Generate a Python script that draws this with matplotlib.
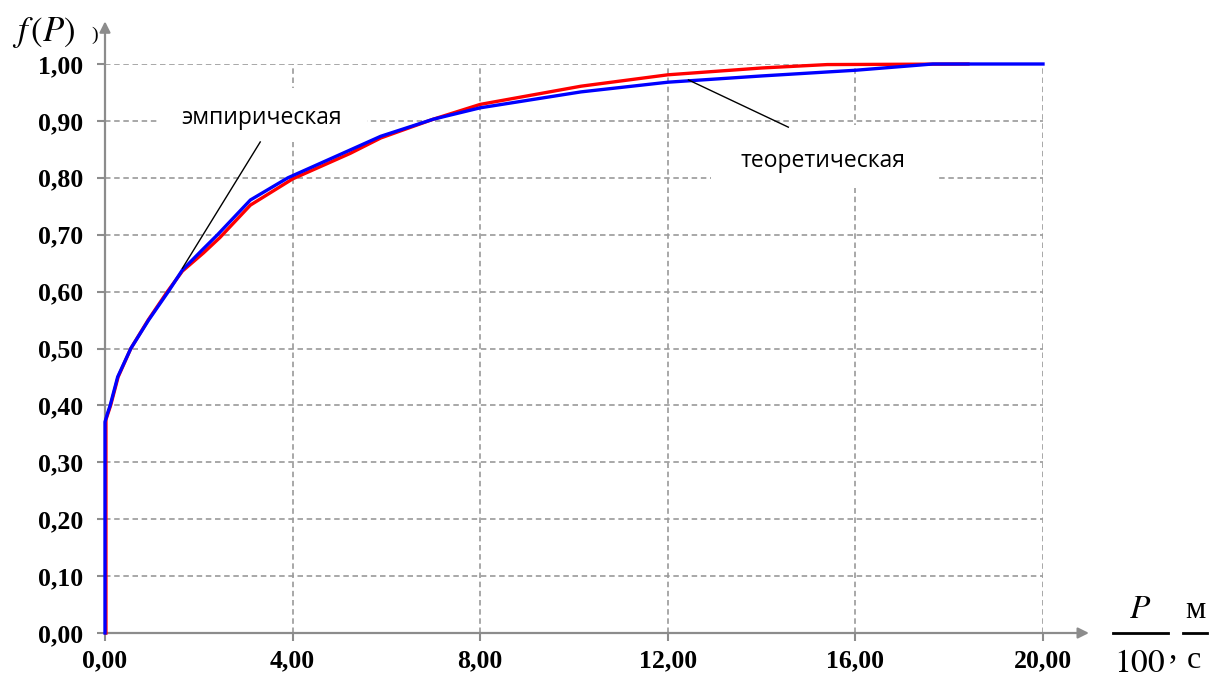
import matplotlib.pyplot as plt
from matplotlib.patches import Rectangle

plt.rcParams['mathtext.fontset'] = 'stix'

# theoretical / empirical distribution function of P/100
x_blue = [0, 0, 0.05, 0.11, 0.27, 0.55, 0.93, 1.35, 1.65, 2.07, 2.4, 3.1, 3.9,
          5.23, 5.88, 7.0, 8.0, 10.15, 12.0, 14.0, 16.0, 17.65, 20.0]
f_blue = [0, 0.371, 0.385, 0.40, 0.45, 0.50, 0.55, 0.60, 0.638, 0.673, 0.70,
          0.761, 0.80, 0.849, 0.873, 0.903, 0.923, 0.951, 0.968, 0.979, 0.989,
          1.0, 1.0]
x_red = [0.02, 0.02, 0.06, 0.12, 0.28, 0.55, 0.92, 1.33, 1.65, 2.1, 2.45, 3.1,
         4.0, 5.23, 5.88, 7.0, 8.0, 10.15, 12.0, 14.0, 15.4, 18.4]
f_red = [0, 0.375, 0.385, 0.40, 0.45, 0.50, 0.55, 0.60, 0.636, 0.668, 0.695,
         0.752, 0.798, 0.843, 0.870, 0.903, 0.929, 0.961, 0.981, 0.993, 0.999,
         1.0]

x_ticks = [0, 4, 8, 12, 16, 20]
y_ticks = [i / 10 for i in range(11)]

W, H = 1212, 698
fig = plt.figure(figsize=(W / 100, H / 100), dpi=100)
ax = fig.add_axes([105 / W, 65 / H, 938 / W, 569 / H])


def px(x, y):
    return x / W, 1 - y / H


gray = '#8c8c8c'
ax.set_xlim(0, 20)
ax.set_ylim(0, 1)
ax.set_xticks(x_ticks)
ax.set_yticks(y_ticks)
ax.set_xticklabels([('%.2f' % v).replace('.', ',') for v in x_ticks])
ax.set_yticklabels([('%.2f' % v).replace('.', ',') for v in y_ticks])
for t in ax.get_xticklabels() + ax.get_yticklabels():
    t.set_fontfamily('Liberation Serif')
    t.set_fontweight('bold')
    t.set_fontsize(18.5)
ax.tick_params(axis='both', direction='out', length=6, width=1.5, color=gray)
ax.tick_params(axis='y', pad=10)
ax.tick_params(axis='x', pad=6)

for s in ax.spines.values():
    s.set_visible(False)
ax.set_axisbelow(True)
ax.grid(True, color='#9a9a9a', lw=1.2, ls=(0, (3.3, 2.2)))

# axis lines with arrow heads
arrow = dict(arrowstyle='-|>', color=gray, lw=1.6, mutation_scale=16,
             shrinkA=0, shrinkB=0)
ax.annotate('', xy=(0, 1.075), xytext=(0, 0), arrowprops=arrow,
            annotation_clip=False)
ax.annotate('', xy=(20.98, 0), xytext=(0, 0), arrowprops=arrow,
            annotation_clip=False)

ax.plot(x_red, f_red, color='#ff0000', lw=2.4, zorder=3, clip_on=False)
ax.plot(x_blue, f_blue, color='#0000ff', lw=2.4, zorder=4, clip_on=False)

# label boxes
ax.add_patch(Rectangle((1.11, 0.863), 4.47, 0.095, facecolor='white',
                       edgecolor='none', zorder=1))
ax.add_patch(Rectangle((12.93, 0.782), 4.81, 0.111, facecolor='white',
                       edgecolor='none', zorder=1))
ax.text(3.33, 0.905, 'эмпирическая', ha='center', va='center', fontsize=16.5,
        family='Open Sans', zorder=5)
ax.text(15.3, 0.83, 'теоретическая', ha='center', va='center', fontsize=16.5,
        family='Open Sans', zorder=5)
ax.plot([3.31, 1.65], [0.863, 0.641], color='black', lw=1, zorder=5)
ax.plot([14.57, 12.44], [0.889, 0.972], color='black', lw=1, zorder=5)

# axis titles
fig.text(*px(12, 33), r'$f\,(P)$', fontsize=25, ha='left', va='center')
fig.text(*px(95, 35), ')', fontsize=14, ha='center', va='center',
         family='Liberation Serif')

fig.text(*px(1140, 609), r'$P$', fontsize=24, ha='center', va='center')
fig.text(*px(1140, 662), r'$100$', fontsize=24, ha='center', va='center')
fig.text(*px(1173, 650), ',', fontsize=24, ha='center', va='center',
         family='Liberation Serif')
fig.text(*px(1195, 610), 'м', fontsize=23, ha='center', va='center',
         family='Liberation Serif')
fig.text(*px(1194, 660), 'с', fontsize=23, ha='center', va='center',
         family='Liberation Serif')
fig.add_artist(plt.Line2D([1113 / W, 1168 / W], [1 - 633 / H] * 2,
                          color='black', lw=2))
fig.add_artist(plt.Line2D([1183 / W, 1207 / W], [1 - 633 / H] * 2,
                          color='black', lw=2))

fig.savefig('out.png', dpi=100)
